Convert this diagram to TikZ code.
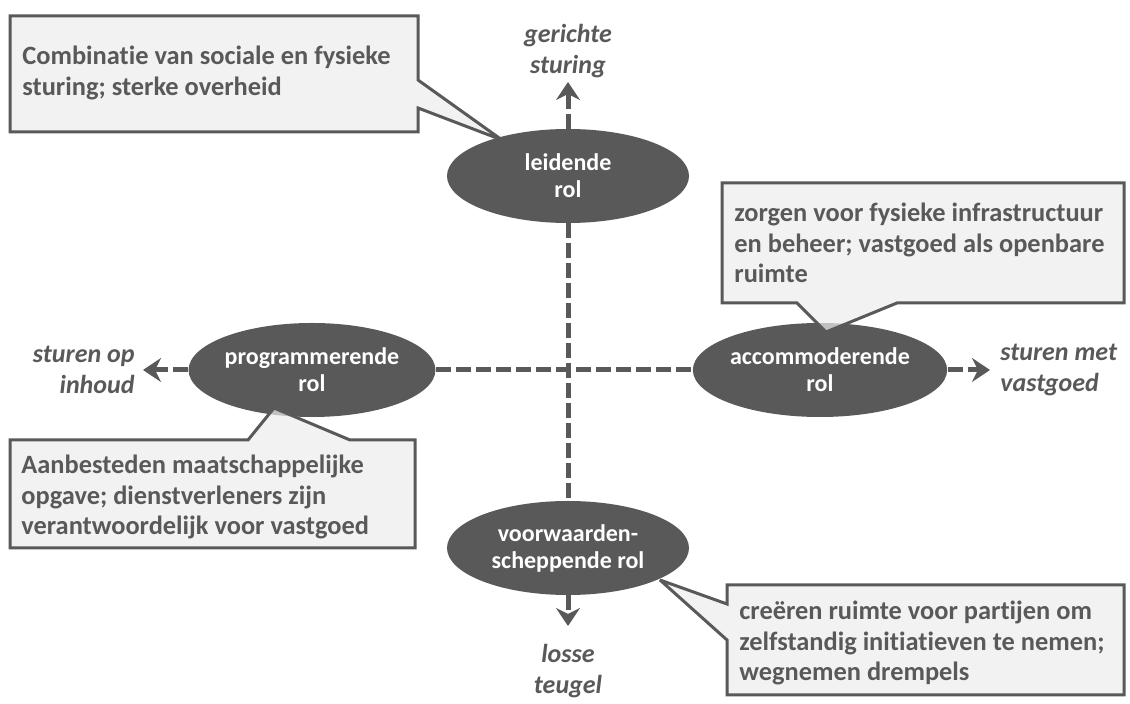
\documentclass[tikz,border=0pt]{standalone}
\usepackage{fontspec}
\setmainfont{Carlito}[Ligatures=NoCommon]
\usetikzlibrary{arrows.meta,positioning,shapes.geometric,backgrounds}
\definecolor{ink}{RGB}{89,89,89}
\definecolor{paper}{RGB}{236,236,236}
\tikzset{
  rolnode/.style={ellipse,fill=ink,text=white,font=\bfseries\fontsize{12}{13.5}\selectfont,align=center,inner sep=0pt,minimum width=121pt,minimum height=47pt},
  axis/.style={draw=ink,line width=2.5pt,dash pattern=on 7.5pt off 2.5pt},
  axistip/.style={axis,-{Stealth[length=9pt,width=12pt,inset=3pt]}},
  axislabel/.style={text=ink,font=\bfseries\itshape\fontsize{13}{15.5}\selectfont,inner sep=0pt},
  callout/.style={draw=ink,line width=1.5pt,fill=paper,fill opacity=0.7,line join=miter,miter limit=2},
  notetext/.style={text=ink,font=\bfseries\fontsize{13.2}{15.4}\selectfont,align=left,anchor=west,inner sep=0pt},
}
\begin{document}
\begin{tikzpicture}[x=0.5pt,y=-0.5pt]
  \useasboundingbox (0,0) rectangle (1130,704);
  % roles
  \node[rolnode] (leidende) at (568,176) {leidende\\rol};
  \node[rolnode] (programmerende) at (312,370) {programmerende\\rol};
  \node[rolnode] (accommoderende) at (820,370) {accommoderende\\rol};
  \node[rolnode] (voorwaarden) at (568,548) {voorwaarden-\\scheppende rol};
  % axis ends and labels
  \coordinate (tipN) at (568,82);
  \coordinate (tipS) at (568,626);
  \coordinate (tipW) at (143,370);
  \coordinate (tipE) at (990,370);
  \node[axislabel,align=center,above=2pt of tipN] (gerichte) {gerichte\\sturing};
  \node[axislabel,align=center,below=9pt of tipS] (losse) {losse\\teugel};
  \node[axislabel,align=right,left=4pt of tipW] (sturenop) {sturen op\\inhoud};
  \node[axislabel,align=left,right=5pt of tipE] (sturenmet) {sturen met\\vastgoed};
  \begin{scope}[on background layer]
    \draw[axis] (leidende) -- (voorwaarden);
    \draw[axis] (programmerende) -- (accommoderende);
    \draw[axistip] (leidende) -- (tipN);
    \draw[axistip] (voorwaarden) -- (tipS);
    \draw[axistip] (programmerende) -- (tipW);
    \draw[axistip] (accommoderende) -- (tipE);
  \end{scope}
  % callouts
  \draw[callout] (10,16) -- (418,16) -- (418,80) -- (502,140) -- (418,108) -- (418,132) -- (10,132) -- cycle;
  \node[notetext] (combinatie) at (22,73) {Combinatie van sociale en fysieke\\sturing; sterke overheid};
  \draw[callout] (722,183) -- (1124,183) -- (1124,303) -- (897,303) -- (826,332) -- (797,303) -- (722,303) -- cycle;
  \node[notetext] (zorgen) at (734,243) {zorgen voor fysieke infrastructuur\\en beheer; vastgoed als openbare\\ruimte};
  \draw[callout] (10,440) -- (248,440) -- (274,408) -- (350,440) -- (415,440) -- (415,548) -- (10,548) -- cycle;
  \node[notetext] (aanbesteden) at (21,497) {Aanbesteden maatschappelijke\\opgave; dienstverleners zijn\\verantwoordelijk voor vastgoed};
  \draw[callout] (727,585) -- (1124,585) -- (1124,695) -- (727,695) -- (727,640) -- (660,580) -- (727,604) -- cycle;
  \node[notetext] (creeren) at (739,643) {creëren ruimte voor partijen om\\zelfstandig initiatieven te nemen;\\wegnemen drempels};
\end{tikzpicture}
\end{document}
